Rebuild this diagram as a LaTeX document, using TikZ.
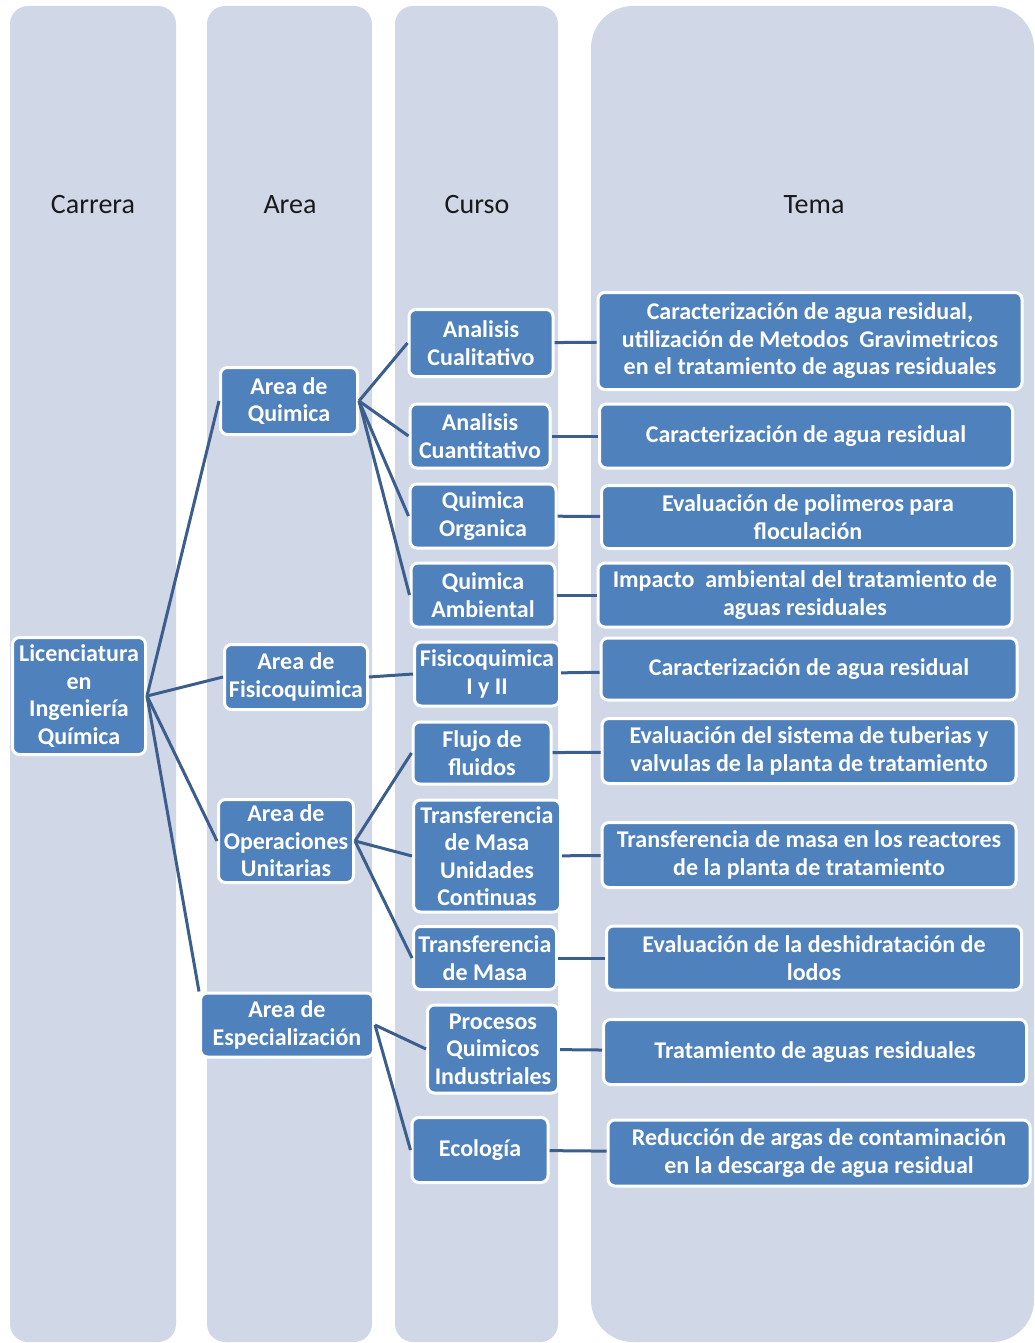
\documentclass[tikz,border=0pt]{standalone}
\usepackage{fontspec}
\setmainfont{Carlito}
\usetikzlibrary{positioning}
\definecolor{colfill}{RGB}{208,216,232}
\definecolor{boxfill}{RGB}{79,129,189}
\definecolor{linkcol}{RGB}{59,94,140}

\begin{document}
\begin{tikzpicture}[x=1pt,y=-1pt,
  colbg/.style={fill=colfill,rounded corners=18pt},
  head/.style={text=black!90,font=\fontsize{28}{30}\selectfont},
  box/.style={draw=white,line width=3pt,fill=boxfill,rounded corners=7pt,
    text=white,align=center,inner sep=1pt,font=\fontsize{24}{27.5}\selectfont\bfseries},
  link/.style={draw=linkcol,line width=3pt}]
\useasboundingbox (0,0) rectangle (1034,1343);
% columns
\fill[colbg] (10,6) rectangle (176,1342);
\fill[colbg] (207,6) rectangle (372,1342);
\fill[colbg] (395,6) rectangle (558,1342);
\fill[colbg,rounded corners=42pt] (591,6) rectangle (1034,1342);
\node[head] (hcar) at (93,205) {Carrera};
\node[head] (hare) at (290,205) {Area};
\node[head] (hcur) at (477,205) {Curso};
\node[head] (htem) at (814,205) {Tema};
% carrera
\node[box,minimum width=133,minimum height=117] (lic) at (79,696) {Licenciatura\\en\\Ingeniería\\Química};
% areas
\node[box,minimum width=137,minimum height=67] (aq) at (289,401) {Area de\\Quimica};
\node[box,minimum width=143,minimum height=65] (af) at (296,677) {Area de\\Fisicoquimica};
\node[box,minimum width=135,minimum height=83] (ao) at (286,841) {Area de\\Operaciones\\Unitarias};
\node[box,minimum width=173,minimum height=64] (ae) at (287,1025) {Area de\\Especialización};
% cursos
\node[box,minimum width=144,minimum height=67] (cual) at (481,343) {Analisis\\Cualitativo};
\node[box,minimum width=140,minimum height=64] (cuan) at (480,436) {Analisis\\Cuantitativo};
\node[box,minimum width=146,minimum height=64] (qorg) at (483,516) {Quimica\\Organica};
\node[box,minimum width=144,minimum height=64] (qamb) at (483,595) {Quimica\\Ambiental};
\node[box,minimum width=145,minimum height=64] (fisq) at (487,674) {Fisicoquimica\\I y II};
\node[box,minimum width=138,minimum height=62] (fluj) at (482,753) {Flujo de\\fluidos};
\node[box,minimum width=147,minimum height=112] (tmuc) at (487,856) {Transferencia\\de Masa\\Unidades\\Continuas};
\node[box,minimum width=143,minimum height=63] (tmas) at (485,958) {Transferencia\\de Masa};
\node[box,minimum width=131,minimum height=88] (proc) at (493,1049) {Procesos\\Quimicos\\Industriales};
\node[box,minimum width=136,minimum height=65] (ecol) at (480,1150) {Ecología};
% temas
\node[box,minimum width=424,minimum height=97] (t1) at (810,341) {Caracterización de agua residual,\\utilización de Metodos~ Gravimetricos\\en el tratamiento de aguas residuales};
\node[box,minimum width=413,minimum height=64] (t2) at (806,436) {Caracterización de agua residual};
\node[box,minimum width=413,minimum height=63] (t3) at (808,517) {Evaluación de polimeros para\\floculación};
\node[box,minimum width=414,minimum height=64] (t4) at (805,595) {Impacto~ ambiental del tratamiento de\\aguas residuales};
\node[box,minimum width=416,minimum height=62] (t5) at (809,669) {Caracterización de agua residual};
\node[box,minimum width=414,minimum height=65] (t6) at (809,751) {Evaluación del sistema de tuberias y\\valvulas de la planta de tratamiento};
\node[box,minimum width=414,minimum height=65] (t7) at (809,855) {Transferencia de masa en los reactores\\de la planta de tratamiento};
\node[box,minimum width=415,minimum height=64] (t8) at (814,958) {Evaluación de la deshidratación de\\lodos};
\node[box,minimum width=423,minimum height=65] (t9) at (815,1052) {Tratamiento de aguas residuales};
\node[box,minimum width=422,minimum height=66] (t10) at (819,1153) {Reducción de argas de contaminación\\en la descarga de agua residual};
% links
\foreach \a in {aq,af,ao} \draw[link] (lic.east) -- (\a.west);
\draw[link] (lic.east) -- (ae.north west);
\foreach \c in {cual,cuan,qorg,qamb} \draw[link] (aq.east) -- (\c.west);
\draw[link] (af.east) -- (fisq.west);
\foreach \c in {fluj,tmuc,tmas} \draw[link] (ao.east) -- (\c.west);
\foreach \c in {proc,ecol} \draw[link] (ae.east) -- (\c.west);
\draw[link] (cual) -- (t1);
\draw[link] (cuan) -- (t2);
\draw[link] (qorg) -- (t3);
\draw[link] (qamb) -- (t4);
\draw[link] (fisq) -- (t5);
\draw[link] (fluj) -- (t6);
\draw[link] (tmuc) -- (t7);
\draw[link] (tmas) -- (t8);
\draw[link] (proc) -- (t9);
\draw[link] (ecol) -- (t10);
\end{tikzpicture}
\end{document}
